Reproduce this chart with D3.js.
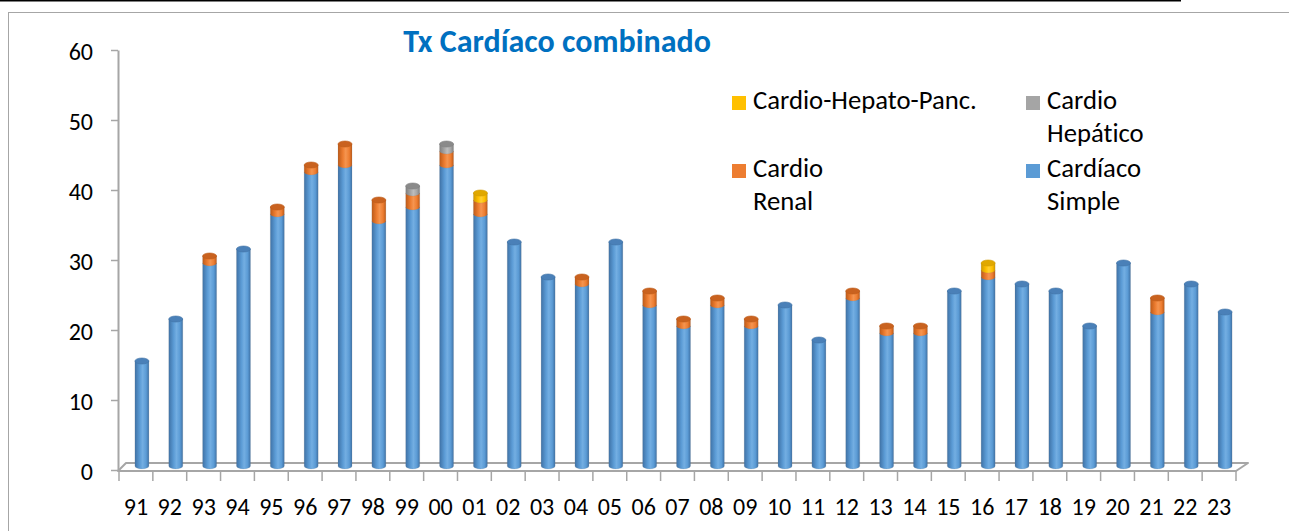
<!DOCTYPE html>
<html>
<head>
<meta charset="utf-8">
<script src="https://cdn.jsdelivr.net/npm/d3@7"></script>
<style>
  html, body { margin: 0; padding: 0; background: #fff; }
  svg { display: block; font-family: Carlito, Lato, "Open Sans", sans-serif; font-variant-ligatures: none; }
</style>
</head>
<body>
<script>
const years = ['91', '92', '93', '94', '95', '96', '97', '98', '99', '00', '01', '02', '03', '04', '05', '06', '07',
  '08', '09', '10', '11', '12', '13', '14', '15', '16', '17', '18', '19', '20', '21', '22', '23']

const cardiacoSimple = [15, 21, 29, 31, 36, 42, 43, 35, 37, 43, 36, 32, 27, 26, 32, 23, 20, 23, 20, 23, 18, 24, 19,
  19, 25, 27, 26, 25, 20, 29, 22, 26, 22]
const cardioRenal = [0, 0, 1, 0, 1, 1, 3, 3, 2, 2, 2, 0, 0, 1, 0, 2, 1, 1, 1, 0, 0, 1, 1, 1, 0, 1, 0, 0, 0, 0, 2, 0, 0]
const cardioHepatico = [0, 0, 0, 0, 0, 0, 0, 0, 1, 1, 0, 0, 0, 0, 0, 0, 0, 0, 0, 0, 0, 0, 0, 0, 0, 0, 0, 0, 0, 0, 0, 0, 0]
const cardioHepatoPanc = [0, 0, 0, 0, 0, 0, 0, 0, 0, 0, 1, 0, 0, 0, 0, 0, 0, 0, 0, 0, 0, 0, 0, 0, 0, 1, 0, 0, 0, 0, 0, 0, 0]

const yTicks = [0, 10, 20, 30, 40, 50, 60]

const width = 1289
const height = 531

// stack order bottom -> top
const series = [
  { key: 'simple', values: cardiacoSimple, base: '#5b9bd5', dark: '#3f72a6', light: '#73aee2', cap: '#4a80b8' },
  { key: 'renal', values: cardioRenal, base: '#ed7d31', dark: '#bd5a18', light: '#f59550', cap: '#c9621f' },
  { key: 'hepatico', values: cardioHepatico, base: '#a5a5a5', dark: '#7f7f7f', light: '#bdbdbd', cap: '#8a8a8a' },
  { key: 'chp', values: cardioHepatoPanc, base: '#ffc000', dark: '#d09a00', light: '#ffd033', cap: '#e0a800' },
]

const table = years.map((yr, i) => {
  const row = { year: yr }
  series.forEach(s => (row[s.key] = s.values[i]))
  return row
})

const stacked = d3.stack().keys(series.map(s => s.key))(table)

const x = d3.scaleBand().domain(years).range([119, 1236]).padding(0)
const y = d3.scaleLinear().domain([0, 60]).range([470, 50])

// 3d depth offset of the bars relative to the axis plane
const depth = { dx: 6, dy: -4 }
const barW = 14
const rx = barW / 2
const ry = 3

const svg = d3.select('body').append('svg').attr('width', width).attr('height', height)

const defs = svg.append('defs')
series.forEach(s => {
  const grad = defs.append('linearGradient').attr('id', `g-${s.key}`).attr('x1', 0).attr('x2', 1).attr('y1', 0).attr('y2', 0)
  grad.append('stop').attr('offset', 0).attr('stop-color', s.dark)
  grad.append('stop').attr('offset', 0.35).attr('stop-color', s.base)
  grad.append('stop').attr('offset', 0.55).attr('stop-color', s.light)
  grad.append('stop').attr('offset', 0.8).attr('stop-color', s.base)
  grad.append('stop').attr('offset', 1).attr('stop-color', s.dark)
})

// page rule and chart frame
svg.append('rect').attr('x', 0).attr('y', 0).attr('width', 1181).attr('height', 1.5).attr('fill', '#000')
svg.append('rect')
  .attr('x', 8.5).attr('y', 12.5)
  .attr('width', 1400).attr('height', 700)
  .attr('fill', 'none').attr('stroke', '#a6a6a6')

// floor
const x0 = x.range()[0] - 1
const x1 = x.range()[1]
svg.append('path')
  .attr('d', `M${x0},${y(0) + 1} L${x0 + 8},${y(0) - 7} L${x1 + 12},${y(0) - 7} L${x1},${y(0) + 1} Z`)
  .attr('fill', '#fff')
  .attr('stroke', '#a6a6a6')
  .attr('stroke-width', 2)
  .attr('stroke-linejoin', 'round')

// y axis
svg.append('g')
  .attr('transform', `translate(${x0}, 0)`)
  .call(d3.axisLeft(y).tickValues(yTicks).tickSizeInner(7).tickSizeOuter(0).tickPadding(18))
  .attr('font-family', null)
  .attr('font-size', 24)
  .call(g => g.select('.domain').attr('stroke', '#a6a6a6').attr('stroke-width', 2))
  .call(g => g.selectAll('.tick line').attr('stroke', '#a6a6a6').attr('stroke-width', 1.5))
  .call(g => g.selectAll('.tick text').attr('fill', '#000').attr('dy', '0.38em'))

// x axis: labels under band centres, ticks on band boundaries
svg.append('g')
  .attr('transform', `translate(0, ${y(0) + 1})`)
  .call(d3.axisBottom(x).tickSize(0).tickPadding(27))
  .attr('font-family', null)
  .attr('font-size', 24)
  .call(g => g.select('.domain').remove())
  .call(g => g.selectAll('.tick text').attr('fill', '#000'))

svg.append('g')
  .selectAll('line')
  .data(years.map(d => x(d)).concat([x1]))
  .join('line')
  .attr('x1', d => d).attr('x2', d => d)
  .attr('y1', y(0) + 1).attr('y2', y(0) + 11)
  .attr('stroke', '#a6a6a6')
  .attr('stroke-width', 1.5)

// cylinders
const bars = svg.append('g')
stacked.forEach((layer, li) => {
  const s = series[li]
  const segs = layer
    .map((d, i) => ({ y0: d[0], y1: d[1], i, top: stacked.slice(li + 1).every(l => l[i][1] === l[i][0]) }))
    .filter(d => d.y1 > d.y0)

  const g = bars.append('g').attr('class', s.key)
  segs.forEach(d => {
    const cx = x(years[d.i]) + x.bandwidth() / 2 + depth.dx
    const yb = y(d.y0) + depth.dy
    const yt = y(d.y1) + depth.dy
    g.append('path')
      .attr('d', `M${cx - rx},${yt} V${yb} A${rx},${ry} 0 0 0 ${cx + rx},${yb} V${yt} Z`)
      .attr('fill', `url(#g-${s.key})`)
      .attr('stroke', 'rgba(120,120,120,0.25)')
      .attr('stroke-width', 0.6)
    if (d.top) {
      g.append('ellipse')
        .attr('cx', cx).attr('cy', yt)
        .attr('rx', rx).attr('ry', ry)
        .attr('fill', s.cap)
        .attr('stroke', s.dark)
        .attr('stroke-width', 0.6)
    }
  })
})

// title
svg.append('text')
  .attr('x', 557).attr('y', 52)
  .attr('text-anchor', 'middle')
  .attr('font-size', 32)
  .attr('font-weight', 'bold')
  .attr('fill', '#0070c0')
  .text('Tx Cardíaco combinado')

// legend
const legendItems = [
  { key: 'chp', lines: ['Cardio-Hepato-Panc.'], x: 732, y: 96 },
  { key: 'hepatico', lines: ['Cardio', 'Hepático'], x: 1026, y: 96 },
  { key: 'renal', lines: ['Cardio', 'Renal'], x: 732, y: 164 },
  { key: 'simple', lines: ['Cardíaco', 'Simple'], x: 1026, y: 164 },
]

const legend = svg.append('g').selectAll('g').data(legendItems).join('g')
  .attr('transform', d => `translate(${d.x}, ${d.y})`)

legend.append('rect')
  .attr('width', 14).attr('height', 14)
  .attr('fill', d => series.find(s => s.key === d.key).base)

legend.append('text')
  .attr('font-size', 26.7)
  .attr('fill', '#000')
  .selectAll('tspan')
  .data(d => d.lines)
  .join('tspan')
  .attr('x', 21)
  .attr('y', (d, i) => 13 + i * 33)
  .text(d => d)
</script>
</body>
</html>
